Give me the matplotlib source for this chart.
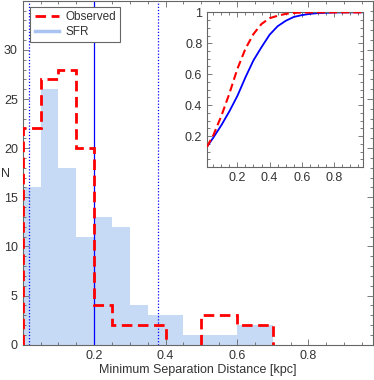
import numpy as np
import matplotlib
matplotlib.use("Agg")
import matplotlib.pyplot as plt
from matplotlib.ticker import MultipleLocator, FixedLocator
from matplotlib.lines import Line2D

plt.rcParams['font.family'] = ['Liberation Sans', 'DejaVu Sans']
plt.rcParams['font.size'] = 9

# Histogram data (bin width 0.05 kpc)
bin_edges = [0.0, 0.05, 0.10, 0.15, 0.20, 0.25, 0.30, 0.35, 0.40, 0.45, 0.50, 0.55, 0.60, 0.65, 0.70]
sfr_counts = [16, 26, 18, 11, 13, 12, 4, 3, 3, 1, 1, 1, 2, 2]
obs_counts = [22, 27, 28, 20, 4, 2, 2, 2, 0, 0, 3, 3, 2, 2]

# Vertical reference lines
median_line = 0.2
dotted_lines = [0.018, 0.38]

# Inset cumulative curves
cdf_x_obs = [0.01, 0.05, 0.10, 0.15, 0.20, 0.25, 0.30, 0.35, 0.40, 0.45, 0.50, 0.55, 0.60, 0.70, 0.80, 0.90, 0.98]
cdf_obs = [0.13, 0.205, 0.33, 0.475, 0.635, 0.765, 0.86, 0.925, 0.962, 0.978, 0.99, 0.996, 0.999, 1.0, 1.0, 1.0, 1.0]
cdf_x_sfr = [0.01, 0.05, 0.10, 0.15, 0.20, 0.25, 0.30, 0.35, 0.40, 0.45, 0.50, 0.55, 0.60, 0.65, 0.70, 0.80, 0.90, 0.98]
cdf_sfr = [0.13, 0.19, 0.27, 0.36, 0.46, 0.58, 0.69, 0.775, 0.855, 0.91, 0.945, 0.97, 0.982, 0.99, 0.995, 0.999, 1.0, 1.0]

x_ticks = [0.2, 0.4, 0.6, 0.8]
x_labels = ['0.2', '0.4', '0.6', '0.8']
y_ticks = [0, 5, 10, 15, 20, 25, 30]
inset_y_ticks = [0.2, 0.4, 0.6, 0.8, 1.0]
inset_y_labels = ['0.2', '0.4', '0.6', '0.8', '1']

fill_color = '#c6d9f5'
red = '#ff0000'
blue = '#0000ff'
spine_gray = '#666666'
text_color = '#333333'
dash = (0, (3.8, 2.0))

fig = plt.figure(figsize=(3.74, 3.80), dpi=100)
ax = fig.add_axes([0.0607, 0.093, 0.9358, 0.905])

edges = np.array(bin_edges)
sfr = np.array(sfr_counts, dtype=float)
obs = np.array(obs_counts, dtype=float)

ax.stairs(sfr, edges, fill=True, color=fill_color, linewidth=0, zorder=1)

for xv in dotted_lines:
    ax.axvline(xv, color=blue, linestyle=(0, (1, 1.5)), linewidth=0.9, zorder=2)
ax.axvline(median_line, color=blue, linewidth=0.9, zorder=2)

# red dashed outline, split at zero-count runs
nz = obs > 0
i = 0
n = len(obs)
while i < n:
    if nz[i]:
        j = i
        while j < n and nz[j]:
            j += 1
        ax.stairs(obs[i:j], edges[i:j + 1], baseline=0, fill=False, color=red,
                  linestyle=dash, linewidth=2.0, zorder=3)
        i = j
    else:
        i += 1

ax.set_xlim(0, 0.98)
ax.set_ylim(0, 35)
ax.xaxis.set_major_locator(FixedLocator(x_ticks))
ax.xaxis.set_minor_locator(MultipleLocator(0.05))
ax.yaxis.set_major_locator(FixedLocator(y_ticks))
ax.yaxis.set_minor_locator(MultipleLocator(1))
ax.tick_params(which='both', direction='in', top=True, right=True, color=spine_gray,
               labelcolor=text_color, labelsize=9, width=0.6)
ax.tick_params(which='major', length=4)
ax.tick_params(which='minor', length=2.5)
ax.set_xticklabels(x_labels)
for s in ax.spines.values():
    s.set_color(spine_gray)
    s.set_linewidth(0.8)
ax.set_xlabel('Minimum Separation Distance [kpc]', color=text_color, fontsize=9, labelpad=2)
ax.set_ylabel('N', rotation=0, color=text_color, fontsize=9)
ax.yaxis.set_label_coords(-0.05, 0.48)

handles = [Line2D([0], [0], color=red, linestyle=dash, linewidth=2.0),
           Line2D([0], [0], color='#a9c4f0', linewidth=2.5)]
leg = ax.legend(handles, ['Observed', 'SFR'], loc='upper left', bbox_to_anchor=(0.022, 0.983),
                fancybox=False, framealpha=1, edgecolor=spine_gray, fontsize=8.5,
                handlelength=2.1, handletextpad=0.5, borderpad=0.35, labelspacing=0.3,
                borderaxespad=0.0)
leg.get_frame().set_linewidth(0.8)
for t in leg.get_texts():
    t.set_color(text_color)

# inset
axi = fig.add_axes([0.554, 0.5605, 0.416, 0.407])
axi.plot(cdf_x_sfr, cdf_sfr, color=blue, linewidth=1.3, zorder=2)
axi.plot(cdf_x_obs, cdf_obs, color=red, linestyle=dash, linewidth=1.5, zorder=3)
axi.set_xlim(0.012, 0.98)
axi.set_ylim(0, 1.0)
axi.xaxis.set_major_locator(FixedLocator(x_ticks))
axi.xaxis.set_minor_locator(MultipleLocator(0.05))
axi.yaxis.set_major_locator(FixedLocator(inset_y_ticks))
axi.yaxis.set_minor_locator(MultipleLocator(0.05))
axi.set_xticklabels(x_labels)
axi.set_yticklabels(inset_y_labels)
axi.tick_params(which='both', direction='in', top=True, right=True, color=spine_gray,
                labelcolor=text_color, labelsize=9, width=0.6)
axi.tick_params(which='major', length=3.5)
axi.tick_params(which='minor', length=2)
for s in axi.spines.values():
    s.set_color(spine_gray)
    s.set_linewidth(0.8)

fig.savefig('out.png', dpi=100)
